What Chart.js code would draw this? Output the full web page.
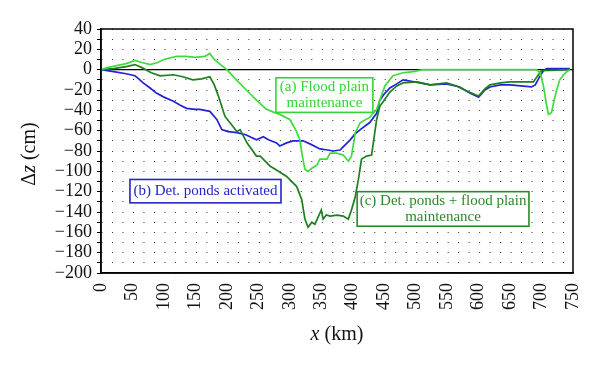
<!DOCTYPE html>
<html><head><meta charset="utf-8">
<script src="https://cdn.jsdelivr.net/npm/chart.js@4.4.1/dist/chart.umd.min.js"></script>
<style>html,body{margin:0;padding:0;background:#fff}</style>
</head><body>
<canvas id="c" width="600" height="365" style="width:600px;height:365px"></canvas>
<script>
// (a) Flood plain maintenance
const aKm = [0,10,25,40,54,65,78,90,100,120,135,150,165,173,180,190,200,215,231,247,263,275,284,300,310,316,320,324,329,335,343,348,359,364,374,385,393,398,404,412,427,438,443,451,464,480,496,512,600,692,698,703,708,711,716,720,724,729,735,740,745];
const aDz = [0,2,4,6,9,7,5,7,10,13,13,12,13,16,10,5,0,-10,-20,-30,-39,-42,-44,-49,-60,-69,-85,-98,-100,-97,-94,-88,-88,-82,-82,-84,-90,-85,-62,-52,-47,-39,-30,-16,-6,-3,-2,0,0,0,-3,-16,-35,-44,-42,-30,-20,-10,-5,-2,0];
// (b) Det. ponds activated
const bKm = [0,20,40,54,60,67,78,88,100,115,126,136,150,157,173,184,192,202,216,230,247,258,266,279,284,295,305,316,321,332,348,360,369,380,388,396,404,412,427,438,443,450,459,470,480,507,523,549,570,586,600,610,618,635,650,684,690,696,703,708,745];
const bDz = [0,-2,-4,-6,-9,-13,-18,-23,-27,-31,-35,-38,-39,-39,-41,-49,-59,-61,-62,-64,-69,-66,-69,-72,-75,-72,-70,-70,-70,-73,-78,-79,-80,-79,-74,-69,-63,-59,-52,-43,-30,-24,-18,-14,-10,-13,-15,-14,-17,-23,-27,-20,-17,-15,-15,-17,-15,-8,-1,1,1];
// (c) Det. ponds + flood plain maintenance
const cKm = [0,20,40,54,65,80,94,115,130,146,160,173,180,186,197,206,216,221,232,247,253,269,282,295,311,319,324,329,335,340,345,350,353,358,364,375,385,393,398,404,409,414,422,430,435,438,443,450,459,470,480,502,523,549,565,581,600,610,618,635,650,687,695,700,745];
const cDz = [0,1,3,5,2,-3,-6,-5,-7,-10,-9,-7,-15,-25,-46,-53,-61,-59,-72,-85,-85,-95,-100,-105,-115,-128,-147,-155,-150,-152,-145,-138,-147,-143,-144,-143,-144,-147,-138,-125,-108,-88,-85,-84,-62,-49,-36,-30,-22,-16,-13,-12,-15,-13,-16,-21,-26,-19,-15,-13,-12,-12,-5,-1,0];
const baseKm = [0,750];
const baseDz = [0,0];
const xTickValues = [0,50,100,150,200,250,300,350,400,450,500,550,600,650,700,750];
const yGridValues = [];
for (let v = -200; v <= 40; v += 10) yGridValues.push(v);
const yLabelValues = [40,20,0,-20,-40,-60,-80,-100,-120,-140,-160,-180,-200];

const pts = (k, d) => k.map((x, i) => ({x: x, y: d[i]}));
const SERIF = '"Liberation Serif", serif';
const LIGHT = '#3ddc3d', DARK = '#1f7f1f', BLUE = '#2222d6';

Chart.defaults.font.family = SERIF;
Chart.defaults.font.size = 18;
Chart.defaults.color = '#111';

const notes = [
  {lines: ['(a) Flood plain', 'maintenance'], color: '#33d633', box: [278, -8, 432, -42]},
  {lines: ['(b) Det. ponds activated'], color: '#2424c8', box: [46, -108, 286, -131]},
  {lines: ['(c) Det. ponds + flood plain', 'maintenance'], color: '#2a8a2a', box: [407, -120, 680, -154]}
];

const deco = {
  id: 'deco',
  afterDatasetsDraw(chart) {
    const ctx = chart.ctx, xs = chart.scales.x, ys = chart.scales.y, a = chart.chartArea;
    ctx.save();
    ctx.strokeStyle = '#000'; ctx.lineWidth = 1.5;
    ctx.strokeRect(a.left, a.top, a.right - a.left, a.bottom - a.top);
    ctx.font = '15px ' + SERIF;
    ctx.textAlign = 'center'; ctx.textBaseline = 'middle';
    for (const n of notes) {
      const x1 = xs.getPixelForValue(n.box[0]), y1 = ys.getPixelForValue(n.box[1]);
      const x2 = xs.getPixelForValue(n.box[2]), y2 = ys.getPixelForValue(n.box[3]);
      ctx.fillStyle = '#fff';
      ctx.fillRect(x1, y1, x2 - x1, y2 - y1);
      ctx.strokeStyle = n.color; ctx.lineWidth = 1.6;
      ctx.strokeRect(x1, y1, x2 - x1, y2 - y1);
      ctx.fillStyle = n.color;
      const cx = (x1 + x2) / 2, cy = (y1 + y2) / 2, lh = 15.5;
      const start = cy - (n.lines.length - 1) * lh / 2;
      n.lines.forEach((t, i) => ctx.fillText(t, cx, start + i * lh));
    }
    ctx.restore();
  },
  afterDraw(chart) {
    const ctx = chart.ctx;
    const drawParts = (parts, cx, cy, rot) => {
      ctx.save();
      ctx.translate(cx, cy); ctx.rotate(rot);
      ctx.fillStyle = '#111'; ctx.textBaseline = 'middle'; ctx.textAlign = 'left';
      let w = 0;
      for (const p of parts) { ctx.font = p[1]; w += ctx.measureText(p[0]).width; }
      let x = -w / 2;
      for (const p of parts) { ctx.font = p[1]; ctx.fillText(p[0], x, 0); x += ctx.measureText(p[0]).width; }
      ctx.restore();
    };
    const R = '20px ' + SERIF, I = 'italic 20px ' + SERIF;
    drawParts([['Δ', R], ['z', I], [' (cm)', R]], 30, 154, -Math.PI / 2);
    drawParts([['x', I], [' (km)', R]], 337, 335, 0);
  }
};

new Chart(document.getElementById('c'), {
  type: 'line',
  data: {
    datasets: [
      {data: pts(aKm, aDz), borderColor: LIGHT, borderWidth: 1.7},
      {data: pts(cKm, cDz), borderColor: DARK, borderWidth: 1.7},
      {data: pts(bKm, bDz), borderColor: BLUE, borderWidth: 1.7},
      {data: pts(baseKm, baseDz), borderColor: '#000', borderWidth: 1.4}
    ]
  },
  options: {
    responsive: false,
    animation: false,
    devicePixelRatio: 1,
    layout: {padding: {top: 29, right: 27, left: 0, bottom: 0}},
    elements: {point: {radius: 0}, line: {tension: 0}},
    plugins: {legend: {display: false}, tooltip: {enabled: false}},
    scales: {
      x: {
        type: 'linear', min: 0, max: 750,
        afterBuildTicks: s => { s.ticks = xTickValues.map(v => ({value: v})); },
        afterFit: s => { s.height = 92; },
        grid: {display: false},
        border: {display: true, color: '#000', width: 1.5},
        ticks: {font: {family: SERIF, size: 18}, color: '#111', maxRotation: 90, minRotation: 90, padding: 2,
          callback: v => String(v)}
      },
      y: {
        type: 'linear', min: -200, max: 40,
        afterBuildTicks: s => { s.ticks = yGridValues.map(v => ({value: v})); },
        afterFit: s => { s.width = 101; },
        grid: {display: true, color: '#333', lineWidth: 1, drawTicks: true, tickLength: 4, tickColor: '#000', tickWidth: 1},
        border: {display: true, color: '#000', width: 1.5, dash: [1, 9.49]},
        ticks: {font: {family: SERIF, size: 18}, color: '#111', padding: 5, autoSkip: false,
          callback: v => yLabelValues.includes(v) ? (v < 0 ? '\u2212' + Math.abs(v) : String(v)) : ''}
      }
    }
  },
  plugins: [deco]
});
</script>
</body></html>
